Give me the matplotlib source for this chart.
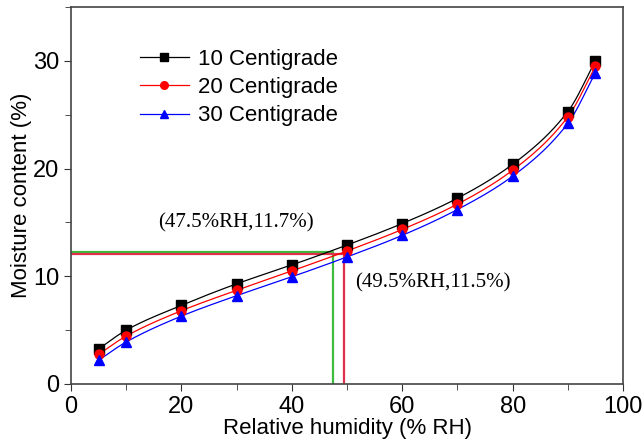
import numpy as np
import matplotlib.pyplot as plt
from matplotlib.ticker import MultipleLocator

rh = [5, 10, 20, 30, 40, 50, 60, 70, 80, 90, 95]
mc_10 = [3.25, 5.0, 7.3, 9.3, 11.05, 12.9, 14.9, 17.25, 20.4, 25.3, 30.0]
mc_20 = [2.75, 4.45, 6.8, 8.7, 10.5, 12.35, 14.35, 16.7, 19.85, 24.8, 29.5]
mc_30 = [2.2, 3.9, 6.3, 8.2, 9.95, 11.8, 13.8, 16.2, 19.3, 24.2, 28.9]
labels = ['10 Centigrade', '20 Centigrade', '30 Centigrade']

# marked points
green_pt = (47.5, 12.3)
red_pt = (49.5, 12.05)
green_txt = '(47.5%RH,11.7%)'
red_txt = '(49.5%RH,11.5%)'


def smooth(x, y, n=300):
    # monotone cubic (pchip) through the measured points, just for drawing
    x = np.asarray(x, float)
    y = np.asarray(y, float)
    h = np.diff(x)
    d = np.diff(y) / h
    m = np.zeros_like(y)
    for k in range(1, len(x) - 1):
        if d[k - 1] * d[k] > 0:
            w1 = 2 * h[k] + h[k - 1]
            w2 = h[k] + 2 * h[k - 1]
            m[k] = (w1 + w2) / (w1 / d[k - 1] + w2 / d[k])
    m[0] = d[0]
    m[-1] = d[-1]
    xs = np.linspace(x[0], x[-1], n)
    idx = np.clip(np.searchsorted(x, xs) - 1, 0, len(h) - 1)
    t = (xs - x[idx]) / h[idx]
    h00 = 2 * t**3 - 3 * t**2 + 1
    h10 = t**3 - 2 * t**2 + t
    h01 = -2 * t**3 + 3 * t**2
    h11 = t**3 - t**2
    ys = h00 * y[idx] + h10 * h[idx] * m[idx] + h01 * y[idx + 1] + h11 * h[idx] * m[idx + 1]
    return xs, ys


plt.rcParams['font.family'] = ['Liberation Sans', 'DejaVu Sans']

fig = plt.figure(figsize=(6.43, 4.41), dpi=100)
ax = fig.add_axes([0.1104, 0.1293, 0.8586, 0.8547])

# guide lines
ax.plot([0, green_pt[0], green_pt[0]], [green_pt[1], green_pt[1], 0], color='#3dbb3d', lw=1.6, zorder=1)
ax.plot([0, red_pt[0], red_pt[0]], [red_pt[1], red_pt[1], 0], color='#e0304c', lw=1.6, zorder=1)

series = [(mc_10, 'black', 's'), (mc_20, 'red', 'o'), (mc_30, 'blue', '^')]
for (vals, col, mk), lab in zip(series, labels):
    xs, ys = smooth(rh, vals)
    ax.plot(xs, ys, color=col, lw=0.9, zorder=2)
    ax.plot(rh, vals, linestyle='none', marker=mk, color=col, ms=6.5, zorder=3)
    ax.plot([], [], color=col, lw=0.9, marker=mk, ms=5.5, label=lab)

ax.text(15.8, 15.0, green_txt, family='Liberation Serif', fontsize=15, va='center')
ax.text(51.4, 9.4, red_txt, family='Liberation Serif', fontsize=15, va='center')

ax.set_xlim(0, 100)
ax.set_ylim(0, 35)
ax.xaxis.set_major_locator(MultipleLocator(20))
ax.xaxis.set_minor_locator(MultipleLocator(10))
ax.yaxis.set_major_locator(MultipleLocator(10))
ax.yaxis.set_minor_locator(MultipleLocator(5))
ax.tick_params(which='both', direction='out', labelsize=17, color='#333333')
ax.tick_params(which='major', length=5)
ax.tick_params(which='minor', length=4)
for sp in ax.spines.values():
    sp.set_color('#444444')
    sp.set_linewidth(1.2)

ax.set_xlabel('Relative humidity (% RH)', fontsize=16, labelpad=0)
ax.set_ylabel('Moisture content (%)', fontsize=16, labelpad=1)

ax.legend(loc='upper left', bbox_to_anchor=(0.109, 0.912), frameon=False, fontsize=16,
          handlelength=2.2, handletextpad=0.4, labelspacing=0.32, borderaxespad=0)

fig.savefig('out.png', dpi=100)
